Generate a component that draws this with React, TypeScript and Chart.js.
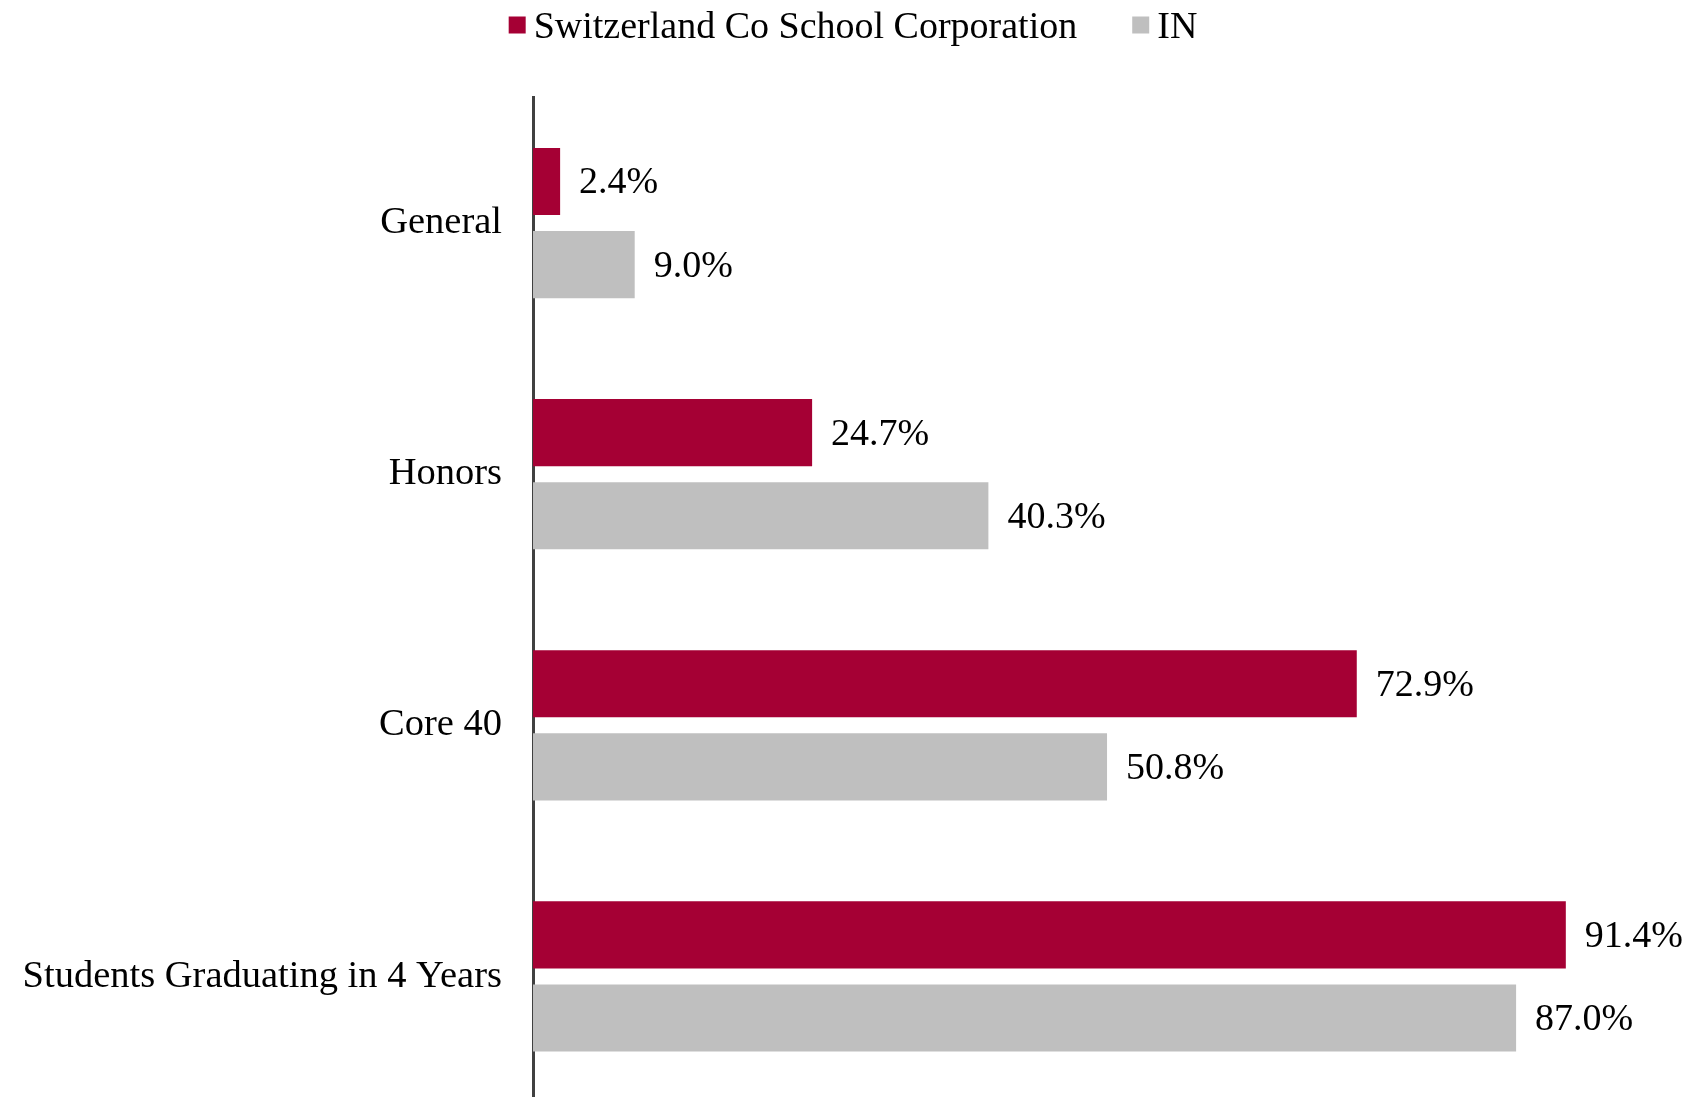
import React, { useEffect, useRef } from "react";
import { Chart, registerables } from "chart.js";

Chart.register(...registerables);

const categories = ["General", "Honors", "Core 40", "Students Graduating in 4 Years"];
const schoolLabel = "Switzerland Co School Corporation";
const stateLabel = "IN";
const schoolValues = [2.4, 24.7, 72.9, 91.4];
const stateValues = [9.0, 40.3, 50.8, 87.0];

const RED = "#A50034";
const GRAY = "#BFBFBF";
const FONT = '"Liberation Serif", "Times New Roman", serif';

const dataLabelPlugin = {
  id: "barValueLabels",
  afterDatasetsDraw(chart: any) {
    const ctx = chart.ctx;
    ctx.save();
    ctx.font = `38px ${FONT}`;
    ctx.fillStyle = "#000";
    ctx.textAlign = "left";
    ctx.textBaseline = "middle";
    chart.data.datasets.forEach((ds: any, i: number) => {
      const meta = chart.getDatasetMeta(i);
      meta.data.forEach((bar: any, j: number) => {
        const v = ds.data[j];
        ctx.fillText(v.toFixed(1) + "%", bar.x + 19, bar.y + 2);
      });
    });
    ctx.restore();
  },
};

const legendPlugin = {
  id: "customTopLegend",
  afterDraw(chart: any) {
    const ctx = chart.ctx;
    ctx.save();
    ctx.font = `38px ${FONT}`;
    ctx.textBaseline = "middle";
    ctx.textAlign = "left";
    const box = 17;
    const gap = 8;
    const itemGap = 55;
    const items = chart.data.datasets.map((ds: any) => ({
      label: ds.label,
      color: ds.backgroundColor,
      w: ctx.measureText(ds.label).width,
    }));
    const total =
      items.reduce((s: number, it: any) => s + box + gap + it.w, 0) +
      itemGap * (items.length - 1);
    let x = (chart.width - total) / 2;
    const yc = 26;
    items.forEach((it: any) => {
      ctx.fillStyle = it.color;
      ctx.fillRect(x, yc - box / 2 - 1, box, box);
      x += box + gap;
      ctx.fillStyle = "#000";
      ctx.fillText(it.label, x, yc + 2);
      x += it.w + itemGap;
    });
    ctx.restore();
  },
};

export default function App() {
  const ref = useRef<HTMLCanvasElement | null>(null);

  useEffect(() => {
    if (!ref.current) return;
    const chart = new Chart(ref.current, {
      type: "bar",
      data: {
        labels: categories,
        datasets: [
          {
            label: schoolLabel,
            data: schoolValues,
            backgroundColor: RED,
            categoryPercentage: 0.662,
            barPercentage: 0.807,
          },
          {
            label: stateLabel,
            data: stateValues,
            backgroundColor: GRAY,
            categoryPercentage: 0.662,
            barPercentage: 0.807,
          },
        ],
      },
      options: {
        indexAxis: "y",
        responsive: false,
        animation: false,
        devicePixelRatio: 1,
        layout: { padding: { top: 97.5, right: 43, bottom: 0, left: 0 } },
        plugins: {
          legend: { display: false },
          tooltip: { enabled: false },
        },
        scales: {
          x: {
            display: false,
            min: 0,
            max: 100,
          },
          y: {
            grid: { display: false, drawTicks: false },
            border: { display: true, color: "#404040", width: 3 },
            ticks: {
              color: "#000",
              font: { family: FONT, size: 38.5 },
              padding: 31,
            },
            afterFit(scale: any) {
              scale.width = 533;
              scale.paddingTop = 0;
              scale.paddingBottom = 0;
            },
          },
        },
      },
      plugins: [dataLabelPlugin, legendPlugin],
    });
    return () => chart.destroy();
  }, []);

  return (
    <div
      style={{
        position: "fixed",
        left: 0,
        top: 0,
        width: 1706,
        height: 1097,
        overflow: "hidden",
        background: "#fff",
      }}
    >
      <canvas ref={ref} width={1706} height={1102} style={{ display: "block" }} />
    </div>
  );
}
